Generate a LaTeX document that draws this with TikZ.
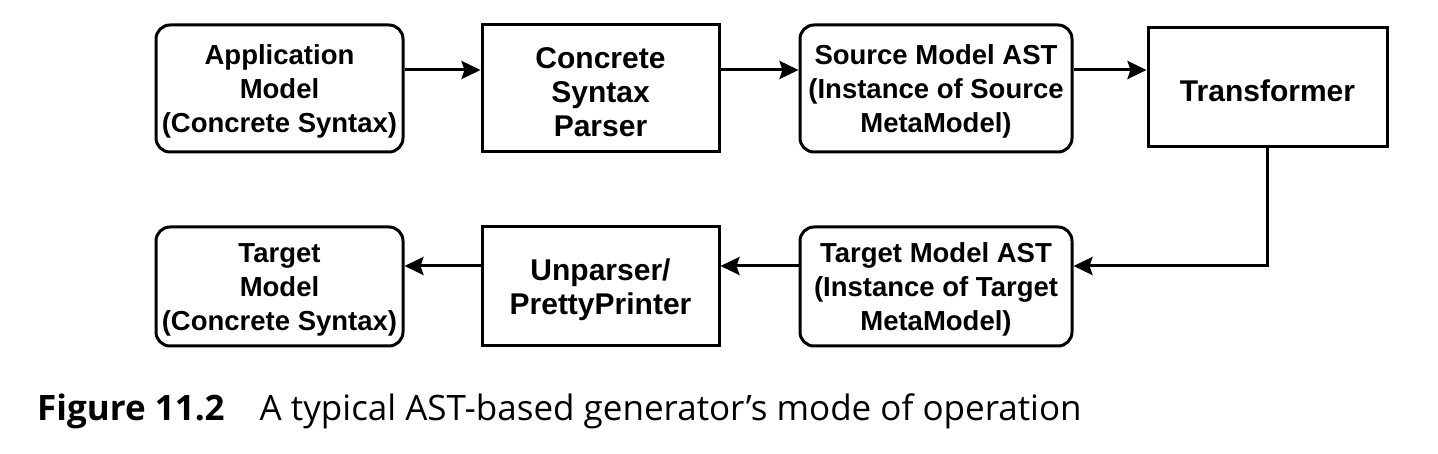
\documentclass[tikz,border=0pt]{standalone}
\usepackage{fontspec}
\setmainfont{Liberation Sans}
\newfontfamily\capfont{Open Sans}
\usetikzlibrary{arrows.meta}
\newcommand\topstrut{\rule{0pt}{0.95em}}
\tikzset{
  base/.style={draw, line width=3pt, align=center, inner sep=0pt,
    font=\bfseries\fontsize{27.5}{34}\selectfont},
  roundbox/.style={base, rounded corners=14pt},
  rectbox/.style={base, font=\bfseries\fontsize{30}{34}\selectfont},
  conn/.style={line width=3pt, -{Stealth[length=19pt,width=18pt,inset=3pt]}}
}
\begin{document}
\begin{tikzpicture}[x=1pt,y=-1pt]
\useasboundingbox (0,0) rectangle (1438,454);
\node[roundbox, minimum width=247pt, minimum height=127pt] (b1) at (279.5,88.5) {\topstrut Application\\Model\\(Concrete Syntax)};
\node[rectbox, minimum width=237pt, minimum height=127pt] (b2) at (600.5,88.5) {\topstrut Concrete\\Syntax\\Parser};
\node[roundbox, minimum width=272pt, minimum height=127pt] (b3) at (936,88.5) {\topstrut Source Model AST\\(Instance of Source\\MetaModel)};
\node[rectbox, minimum width=239pt, minimum height=119pt] (b4) at (1267.5,87.5) {\topstrut Transformer};
\node[roundbox, minimum width=247pt, minimum height=119pt] (b5) at (279.5,286.5) {\topstrut Target\\Model\\(Concrete Syntax)};
\node[rectbox, minimum width=237pt, minimum height=119pt] (b6) at (600.5,286.5) {\topstrut Unparser/\\PrettyPrinter};
\node[roundbox, minimum width=272pt, minimum height=119pt] (b7) at (936,286.5) {\topstrut Target Model AST\\(Instance of Target\\MetaModel)};
\draw[conn] ([yshift=18.5pt]b1.east) -- ([yshift=18.5pt]b2.west);
\draw[conn] ([yshift=18.5pt]b2.east) -- ([yshift=18.5pt]b3.west);
\draw[conn] ([yshift=18.5pt]b3.east) -- ([yshift=17.5pt]b4.west);
\draw[conn] (b4.south) |- ([yshift=20.5pt]b7.east);
\draw[conn] ([yshift=20.5pt]b7.west) -- ([yshift=20.5pt]b6.east);
\draw[conn] ([yshift=20.5pt]b6.west) -- ([yshift=20.5pt]b5.east);
\node[anchor=base west, inner sep=0pt, font=\capfont\fontsize{35}{40}\selectfont] (cap) at (37,420) {\textbf{Figure 11.2}\hspace{35pt}A typical AST-based generator’s mode of operation};
\end{tikzpicture}
\end{document}
